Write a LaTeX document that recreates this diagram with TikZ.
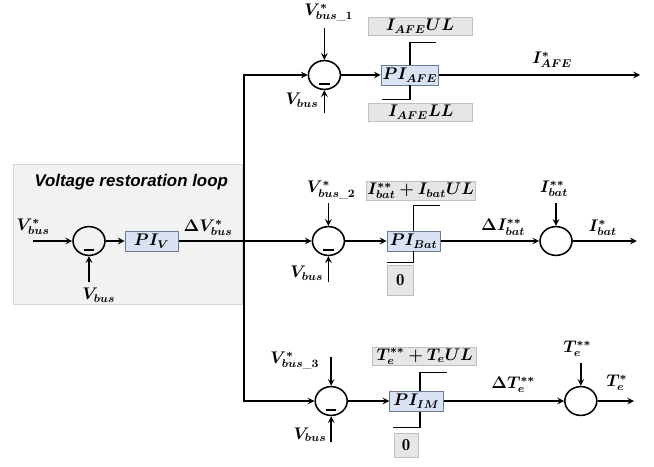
\documentclass[tikz,border=0pt]{standalone}
\usepackage{amsmath}
\usepackage{bm}
\usepackage{fontspec}
\usetikzlibrary{shapes.geometric}
\newfontfamily\loopfont{Liberation Sans}
\definecolor{piblue}{HTML}{DAE3F3}
\definecolor{piedge}{HTML}{6B7B95}
\definecolor{limgray}{HTML}{E6E6E6}
\definecolor{limedge}{HTML}{BFBFBF}
\definecolor{loopgray}{HTML}{F2F2F2}
\definecolor{loopedge}{HTML}{D6D6D6}
\tikzset{
  sumnode/.style={draw,ellipse,minimum width=0.8cm,minimum height=0.72cm,inner sep=0pt},
  sumneg/.style={sumnode,path picture={\draw (path picture bounding box.center) ++(-0.13,-0.22) -- ++(0.26,0);}},
  pibox/.style={draw=piedge,fill=piblue,rectangle,minimum width=1.33cm,minimum height=0.5cm,inner sep=1pt,line width=0.7pt},
  limbox/.style={draw=limedge,fill=limgray,rectangle,minimum height=0.47cm,inner sep=1pt,line width=0.5pt},
}
\begin{document}
\begin{tikzpicture}[>=stealth,line width=1.1pt,font=\large]
\useasboundingbox (0,0) rectangle (16.35,11.65);

% voltage restoration loop
\draw[draw=loopedge,fill=loopgray,line width=0.5pt] (0.33,4.05) rectangle (6.05,7.53);
\node[font={\loopfont\bfseries\itshape\fontsize{12}{14}\selectfont}] (title) at (3.28,7.1) {Voltage restoration loop};
\coordinate (vin) at (0.83,5.625);
\node (vref) at (0.83,5.98) {$\bm{V^{*}_{bus}}$};
\node[sumneg] (s0) at (2.225,5.625) {};
\coordinate (m0) at (2.225,4.6);
\node (vbus0) at (2.47,4.27) {$\bm{V_{bus}}$};
\node[pibox] (piv) at (3.79,5.625) {$\bm{PI_{V}}$};
\node (dv) at (5.2,5.95) {$\bm{\Delta V^{*}_{bus}}$};

\coordinate (bus1) at (6.1,9.775);
\coordinate (bus2) at (6.1,5.625);
\coordinate (bus3) at (6.1,1.625);

% AFE branch
\node[sumneg] (s1) at (8.11,9.775) {};
\coordinate (r1) at (8.11,10.95);
\node (ref1) at (8.22,11.33) {$\bm{V^{*}_{bus\text{\_}1}}$};
\coordinate (m1) at (8.11,8.825);
\node (vbus1) at (7.55,9.15) {$\bm{V_{bus}}$};
\node[pibox] (pi1) at (10.25,9.775) {$\bm{PI_{AFE}}$};
\node[limbox,minimum width=2.6cm] (ul1) at (10.5,10.99) {$\bm{I_{AFE}UL}$};
\node[limbox,minimum width=2.6cm] (ll1) at (10.52,8.84) {$\bm{I_{AFE}LL}$};
\coordinate (o1) at (16.0,9.775);
\node (iafe) at (13.8,10.15) {$\bm{I^{*}_{AFE}}$};

% battery branch
\node[sumneg] (s2) at (8.21,5.625) {};
\coordinate (r2) at (8.21,6.575);
\node (ref2) at (8.28,6.9) {$\bm{V^{*}_{bus\text{\_}2}}$};
\coordinate (m2) at (8.21,4.6);
\node (vbus2) at (7.67,4.82) {$\bm{V_{bus}}$};
\node[pibox] (pi2) at (10.34,5.625) {$\bm{PI_{Bat}}$};
\node[limbox,minimum width=2.6cm] (ul2) at (10.52,6.875) {$\bm{I^{**}_{bat}+I_{bat}UL}$};
\node[limbox,minimum width=0.63cm,minimum height=0.73cm] (ll2) at (10.01,4.64) {$\mathbf{0}$};
\node[sumnode] (s4) at (13.9,5.625) {};
\node (dib) at (12.58,5.97) {$\bm{\Delta I^{**}_{bat}}$};
\coordinate (r4) at (13.9,6.575);
\node (ibb) at (13.85,6.93) {$\bm{I^{**}_{bat}}$};
\coordinate (o2) at (15.92,5.625);
\node (ib) at (15.07,5.95) {$\bm{I^{*}_{bat}}$};

% machine branch
\node[sumneg] (s3) at (8.28,1.625) {};
\coordinate (r3) at (8.28,2.725);
\node (ref3) at (7.37,2.63) {$\bm{V^{*}_{bus\text{\_}3}}$};
\coordinate (m3) at (8.28,0.6);
\node (vbus3) at (7.75,0.78) {$\bm{V_{bus}}$};
\node[pibox] (pi3) at (10.41,1.625) {$\bm{PI_{IM}}$};
\node[limbox,minimum width=2.6cm] (ul3) at (10.62,2.74) {$\bm{T^{**}_{e}+T_{e}UL}$};
\node[limbox,minimum width=0.6cm,minimum height=0.6cm] (ll3) at (10.15,0.52) {$\mathbf{0}$};
\node[sumnode] (s5) at (14.52,1.625) {};
\node (dte) at (12.83,2.03) {$\bm{\Delta T^{**}_{e}}$};
\coordinate (r5) at (14.52,2.575);
\node (tee) at (14.43,2.93) {$\bm{T^{**}_{e}}$};
\coordinate (o3) at (15.85,1.625);
\node (te) at (15.42,2.08) {$\bm{T^{*}_{e}}$};

\draw[->] (vin) -- (s0);
\draw[->] (m0) -- (s0);
\draw[->] (s0) -- (piv);
\draw[->] (piv) -- (s2);
\draw[->] (bus2) |- (s1);
\draw[->] (bus2) |- (s3);

\draw[->] (r1) -- (s1);
\draw[->] (m1) -- (s1);
\draw[->] (s1) -- (pi1);
\draw[->] (pi1) -- (o1);
\draw (pi1.north) -- ++(0,0.55) -- ++(0.65,0);
\draw (pi1.south) -- ++(0,-0.35) -- ++(-0.7,0);

\draw[->] (r2) -- (s2);
\draw[->] (m2) -- (s2);
\draw[->] (s2) -- (pi2);
\draw[->] (pi2) -- (s4);
\draw[->] (r4) -- (s4);
\draw[->] (s4) -- (o2);
\draw (pi2.north) -- ++(0,0.62) -- ++(0.67,0);
\draw (pi2.south) -- ++(0,-0.28) -- ++(-0.67,0);

\draw[->] (r3) -- (s3);
\draw[->] (m3) -- (s3);
\draw[->] (s3) -- (pi3);
\draw[->] (pi3) -- (s5);
\draw[->] (r5) -- (s5);
\draw[->] (s5) -- (o3);
\draw ([xshift=0.09cm]pi3.north) -- ++(0,0.45) -- ++(0.67,0);
\draw ([xshift=0.09cm]pi3.south) -- ++(0,-0.4) -- ++(-0.67,0);
\end{tikzpicture}
\end{document}
